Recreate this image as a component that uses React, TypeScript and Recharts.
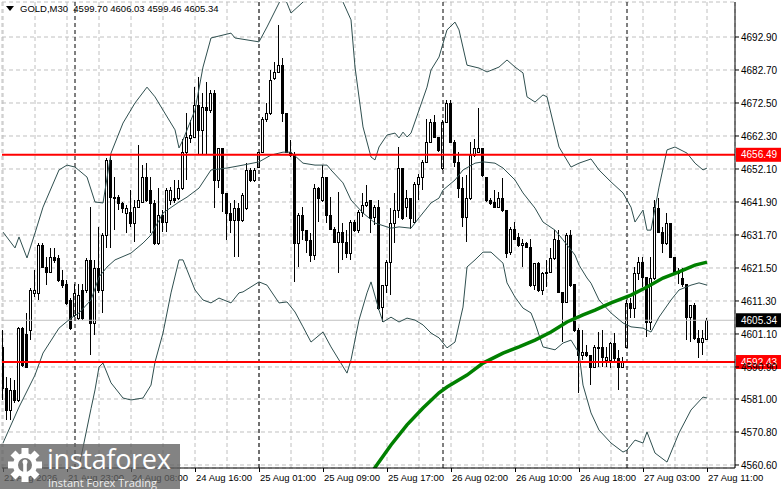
import React from 'react';
import { ComposedChart, Bar, Line, XAxis, YAxis, CartesianGrid, ReferenceLine } from 'recharts';

// open, high, low, close per M30 bar
const candles: [number, number, number, number][] = [
  [4597.2, 4602.3, 4580.7, 4584.3], [4584.3, 4587.9, 4574.5, 4577.6], [4577.6, 4587.4, 4574.5, 4583.8], [4583.8, 4586.9, 4579.7, 4580.7],
  [4580.7, 4603.4, 4580.2, 4602.8], [4602.8, 4603.4, 4591.0, 4591.5], [4601.0, 4607.5, 4590.5, 4591.0], [4602.3, 4615.2, 4599.2, 4614.7],
  [4613.7, 4620.9, 4612.6, 4614.7], [4613.7, 4629.1, 4611.6, 4628.6], [4628.6, 4629.1, 4621.4, 4621.9], [4621.9, 4625.0, 4616.2, 4620.3],
  [4620.3, 4627.6, 4619.8, 4625.0], [4625.0, 4627.6, 4622.9, 4624.0], [4624.5, 4625.5, 4617.3, 4617.8], [4617.8, 4620.9, 4615.2, 4616.2],
  [4616.7, 4617.8, 4610.1, 4610.6], [4611.6, 4612.1, 4602.3, 4602.8], [4607.0, 4616.7, 4606.5, 4613.7], [4606.0, 4616.7, 4605.4, 4613.1],
  [4614.7, 4616.7, 4605.4, 4606.0], [4614.7, 4624.5, 4613.7, 4624.0], [4624.0, 4640.4, 4594.6, 4604.4], [4604.4, 4624.0, 4600.8, 4621.4],
  [4621.4, 4634.3, 4613.7, 4614.7], [4614.7, 4632.2, 4607.5, 4631.7], [4631.7, 4655.4, 4627.6, 4654.9], [4654.9, 4656.4, 4627.6, 4643.5],
  [4643.5, 4649.7, 4633.2, 4643.0], [4643.5, 4644.0, 4639.4, 4641.5], [4641.5, 4642.0, 4638.4, 4639.9], [4638.4, 4640.9, 4632.2, 4639.9],
  [4638.9, 4645.6, 4634.3, 4635.3], [4635.3, 4642.5, 4629.6, 4640.4], [4640.4, 4659.5, 4639.9, 4642.5], [4642.0, 4653.3, 4641.5, 4649.7],
  [4649.7, 4653.8, 4642.0, 4642.5], [4645.6, 4649.7, 4632.2, 4641.5], [4641.5, 4642.5, 4628.6, 4629.1], [4629.1, 4646.1, 4628.6, 4637.9],
  [4637.9, 4639.4, 4632.7, 4635.8], [4635.8, 4646.1, 4632.7, 4645.6], [4642.5, 4646.6, 4641.0, 4645.6], [4643.0, 4648.7, 4641.5, 4642.5],
  [4643.0, 4648.7, 4642.5, 4646.1], [4646.1, 4661.5, 4645.6, 4657.4], [4657.4, 4669.3, 4648.7, 4662.1], [4661.6, 4667.2, 4660.0, 4662.6],
  [4662.1, 4677.5, 4661.6, 4671.9], [4671.9, 4680.6, 4656.4, 4664.1], [4664.1, 4675.5, 4656.4, 4671.4], [4671.4, 4679.1, 4656.4, 4670.3],
  [4670.3, 4676.5, 4669.3, 4675.5], [4675.5, 4676.5, 4639.9, 4648.7], [4648.7, 4658.5, 4646.1, 4658.5], [4658.5, 4658.5, 4638.9, 4644.6],
  [4644.6, 4644.6, 4630.1, 4638.4], [4638.4, 4641.5, 4632.2, 4636.3], [4636.3, 4642.5, 4625.0, 4639.9], [4639.9, 4641.5, 4625.0, 4636.3],
  [4636.3, 4644.6, 4635.8, 4644.0], [4639.9, 4653.8, 4639.4, 4651.8], [4651.8, 4652.3, 4648.2, 4648.7], [4648.7, 4652.3, 4648.2, 4651.8],
  [4652.8, 4657.4, 4652.3, 4657.4], [4657.4, 4668.2, 4656.9, 4667.7], [4667.7, 4672.4, 4666.7, 4669.3], [4669.3, 4682.7, 4668.8, 4679.6],
  [4680.1, 4685.2, 4679.6, 4682.2], [4682.2, 4696.6, 4681.7, 4684.2], [4684.2, 4686.3, 4666.7, 4669.3], [4669.3, 4669.3, 4656.9, 4657.4],
  [4657.4, 4661.0, 4655.9, 4656.4], [4656.4, 4657.4, 4617.3, 4629.1], [4629.1, 4638.4, 4621.9, 4637.9], [4637.9, 4640.4, 4630.1, 4633.2],
  [4633.2, 4633.2, 4626.0, 4630.1], [4630.1, 4632.2, 4623.4, 4625.5], [4625.5, 4647.6, 4624.0, 4646.1], [4646.1, 4646.6, 4635.8, 4643.0],
  [4642.5, 4653.3, 4642.0, 4649.7], [4649.7, 4649.7, 4635.3, 4637.9], [4637.9, 4643.5, 4633.2, 4633.7], [4633.7, 4634.3, 4629.1, 4629.6],
  [4629.6, 4645.1, 4619.8, 4632.7], [4632.7, 4635.3, 4624.0, 4629.6], [4629.6, 4633.2, 4624.5, 4626.0], [4626.0, 4636.3, 4624.0, 4635.8],
  [4635.8, 4636.3, 4632.7, 4633.2], [4633.2, 4639.4, 4632.2, 4638.9], [4638.9, 4644.6, 4637.4, 4640.9], [4640.9, 4647.1, 4640.4, 4642.0],
  [4642.5, 4642.5, 4632.2, 4636.8], [4637.4, 4641.0, 4634.8, 4640.4], [4640.4, 4642.5, 4608.5, 4609.0], [4609.5, 4616.2, 4604.9, 4616.2],
  [4616.2, 4623.9, 4613.7, 4623.4], [4623.4, 4639.9, 4613.2, 4635.3], [4635.3, 4644.6, 4629.1, 4639.4], [4639.4, 4659.0, 4636.8, 4652.3],
  [4652.3, 4652.3, 4636.3, 4636.8], [4640.4, 4645.6, 4637.4, 4643.0], [4643.0, 4643.0, 4633.7, 4636.8], [4635.8, 4648.2, 4635.3, 4647.6],
  [4647.6, 4650.7, 4642.5, 4649.7], [4649.7, 4654.9, 4645.6, 4654.3], [4654.3, 4667.7, 4653.8, 4660.5], [4660.5, 4667.7, 4660.0, 4666.7],
  [4666.7, 4668.8, 4661.6, 4662.1], [4662.1, 4662.1, 4657.4, 4658.0], [4652.3, 4667.2, 4651.8, 4666.7], [4666.7, 4673.4, 4666.2, 4672.4],
  [4672.4, 4673.4, 4660.0, 4660.5], [4660.5, 4661.0, 4652.8, 4654.3], [4654.3, 4657.4, 4643.0, 4646.1], [4646.1, 4649.7, 4634.3, 4637.4],
  [4637.4, 4650.2, 4629.6, 4643.0], [4643.0, 4660.5, 4642.5, 4656.4], [4656.4, 4661.5, 4655.9, 4658.5], [4657.4, 4670.8, 4656.9, 4658.5],
  [4658.5, 4658.5, 4649.7, 4650.2], [4649.7, 4649.7, 4642.0, 4642.5], [4642.5, 4643.0, 4641.0, 4641.5], [4642.0, 4645.6, 4639.9, 4640.4],
  [4640.4, 4645.1, 4639.9, 4643.0], [4643.0, 4649.2, 4638.9, 4639.4], [4639.4, 4639.4, 4624.5, 4626.0], [4626.5, 4634.3, 4625.5, 4633.7],
  [4633.7, 4635.8, 4630.1, 4630.6], [4631.2, 4632.2, 4628.1, 4628.6], [4628.6, 4630.6, 4621.9, 4629.1], [4629.1, 4629.6, 4627.6, 4628.1],
  [4628.1, 4630.6, 4615.7, 4616.2], [4616.2, 4622.9, 4614.7, 4622.9], [4622.9, 4623.4, 4614.2, 4614.7], [4614.7, 4620.3, 4613.2, 4619.8],
  [4619.8, 4623.9, 4615.7, 4620.3], [4620.3, 4627.6, 4619.8, 4624.5], [4624.5, 4633.2, 4624.0, 4630.6], [4630.1, 4633.2, 4613.7, 4614.2],
  [4614.2, 4614.2, 4598.7, 4611.1], [4611.1, 4632.2, 4610.6, 4631.7], [4631.7, 4633.2, 4615.7, 4616.2], [4616.7, 4616.7, 4601.8, 4602.3],
  [4602.3, 4602.8, 4582.8, 4594.6], [4594.6, 4602.3, 4593.1, 4595.6], [4595.6, 4597.7, 4594.1, 4594.6], [4594.6, 4594.6, 4585.3, 4591.0],
  [4591.0, 4597.7, 4590.5, 4597.2], [4596.7, 4601.8, 4591.0, 4597.2], [4597.2, 4602.3, 4591.0, 4594.1], [4593.1, 4597.2, 4591.0, 4594.1],
  [4593.1, 4598.7, 4590.5, 4598.2], [4598.2, 4601.3, 4592.5, 4593.6], [4593.6, 4596.2, 4583.8, 4591.0], [4591.0, 4594.1, 4590.5, 4592.5],
  [4597.2, 4611.6, 4597.2, 4610.6], [4610.6, 4612.1, 4606.0, 4609.0], [4609.0, 4621.9, 4606.0, 4619.8], [4619.8, 4625.0, 4617.8, 4623.4],
  [4623.4, 4625.0, 4615.7, 4618.8], [4618.8, 4618.8, 4600.3, 4604.9], [4604.9, 4625.0, 4602.3, 4618.3], [4618.3, 4642.5, 4617.8, 4640.4],
  [4639.9, 4643.0, 4632.2, 4632.7], [4632.7, 4634.3, 4626.0, 4629.1], [4629.1, 4638.4, 4628.6, 4635.3], [4635.3, 4635.3, 4624.5, 4625.0],
  [4625.0, 4625.0, 4619.8, 4620.3], [4620.3, 4621.4, 4616.7, 4619.8], [4618.3, 4621.4, 4615.7, 4616.7], [4616.7, 4616.7, 4599.2, 4606.5],
  [4606.5, 4610.1, 4598.7, 4610.1], [4610.1, 4610.6, 4599.2, 4599.8], [4599.8, 4602.3, 4593.6, 4598.7], [4598.7, 4602.3, 4594.6, 4599.8],
  [4599.70, 4606.03, 4599.46, 4605.34],
];

// Bollinger bands: [bar index, price]
const upperBand: [number, number][] = [
  [0, 4632.6], [3, 4627.7], [4, 4631.1], [6, 4624.6], [8, 4632.3], [10, 4640.3], [14, 4651.8], [16, 4653.3], [18, 4652.7],
  [21, 4649.6], [23, 4641.9], [25, 4641.6], [27, 4657.0], [30, 4666.3], [33, 4672.5], [36, 4677.4], [38, 4674.4], [40, 4670.3],
  [43, 4664.2], [44, 4658.6], [45, 4661.1], [48, 4670.3], [50, 4683.6], [52, 4692.6], [57, 4694.1], [58, 4692.6], [64, 4691.4],
  [66, 4696.0], [69, 4703.4], [70, 4706.0], [71, 4703.4], [72, 4700.3], [75, 4703.7], [80, 4712.0], [85, 4703.7], [87, 4698.2],
  [88, 4683.6], [90, 4665.1], [92, 4655.8], [93, 4654.9], [94, 4658.9], [96, 4662.6], [98, 4663.2], [99, 4661.7], [100, 4663.5],
  [101, 4662.0], [102, 4663.2], [104, 4670.3], [106, 4677.4], [107, 4682.7], [109, 4686.7], [111, 4695.1], [113, 4697.5],
  [114, 4695.1], [116, 4684.2], [119, 4683.3], [121, 4682.1], [124, 4683.6], [126, 4685.8], [128, 4683.6], [130, 4681.8],
  [131, 4674.4], [133, 4672.8], [135, 4675.0], [136, 4674.4], [139, 4658.9], [142, 4652.7], [144, 4653.9], [147, 4655.2],
  [149, 4651.8], [152, 4648.1], [155, 4644.7], [157, 4640.3], [158, 4635.7], [160, 4639.4], [161, 4633.2], [162, 4633.2],
  [164, 4646.5], [166, 4658.0], [168, 4658.9], [171, 4657.0], [173, 4653.9], [175, 4651.8], [176, 4652.4],
];

const middleBand: [number, number][] = [
  [0, 4567.4], [4, 4578.5], [8, 4588.4], [10, 4595.2], [14, 4602.9], [17, 4606.0], [19, 4607.6], [22, 4611.6], [24, 4618.7],
  [26, 4621.8], [28, 4624.0], [32, 4626.1], [35, 4629.2], [37, 4631.7], [40, 4638.5], [44, 4641.9], [46, 4643.4], [49, 4646.2],
  [52, 4651.8], [56, 4652.4], [60, 4653.3], [64, 4654.3], [67, 4656.4], [70, 4657.3], [72, 4657.3], [75, 4653.9], [78, 4653.3],
  [81, 4653.3], [82, 4651.8], [85, 4647.8], [87, 4642.5], [90, 4638.5], [93, 4635.4], [97, 4633.8], [99, 4634.2], [102, 4633.8],
  [104, 4637.0], [107, 4641.6], [109, 4643.1], [110, 4645.6], [113, 4648.7], [115, 4651.8], [118, 4653.9], [120, 4654.3],
  [123, 4653.9], [125, 4652.4], [128, 4648.7], [130, 4644.7], [133, 4640.0], [135, 4635.7], [138, 4633.2], [140, 4630.2],
  [143, 4625.5], [144, 4622.4], [146, 4618.4], [147, 4616.8], [149, 4611.6], [152, 4607.6], [155, 4604.5], [157, 4603.3],
  [160, 4602.9], [162, 4601.7], [164, 4606.3], [167, 4611.6], [169, 4614.7], [172, 4616.2], [174, 4616.9], [176, 4616.2],
];

const lowerBand: [number, number][] = [
  [0, 4502.0], [10, 4550.0], [16, 4557.0], [19, 4560.0], [22, 4578.0], [23, 4583.8], [24, 4590.9], [25, 4592.1], [27, 4586.0],
  [30, 4581.3], [32, 4580.7], [35, 4581.3], [37, 4585.3], [38, 4592.4], [40, 4601.4], [42, 4613.8], [44, 4624.0], [45, 4624.0],
  [46, 4620.9], [48, 4614.7], [50, 4611.6], [52, 4610.7], [54, 4612.2], [57, 4610.7], [59, 4613.8], [60, 4614.1], [64, 4617.2],
  [66, 4616.2], [69, 4610.7], [71, 4611.0], [73, 4607.9], [75, 4603.3], [77, 4598.6], [80, 4601.7], [82, 4597.1], [86, 4589.0],
  [87, 4593.1], [89, 4605.4], [91, 4613.8], [92, 4617.2], [94, 4608.5], [95, 4604.8], [97, 4606.3], [99, 4604.8], [101, 4606.0],
  [103, 4605.4], [105, 4603.9], [107, 4601.4], [109, 4599.9], [111, 4596.8], [113, 4598.6], [115, 4609.4], [116, 4621.8],
  [118, 4624.0], [120, 4626.4], [122, 4626.4], [125, 4623.0], [126, 4616.9], [128, 4612.5], [130, 4609.1], [132, 4607.6],
  [133, 4604.5], [135, 4597.1], [138, 4596.2], [140, 4598.3], [142, 4599.2], [144, 4595.2], [145, 4585.3], [147, 4576.7],
  [149, 4571.4], [152, 4567.4], [155, 4564.6], [156, 4565.2], [158, 4568.3], [160, 4567.4], [161, 4570.8], [163, 4564.3],
  [166, 4561.5], [169, 4570.5], [172, 4577.6], [175, 4581.6], [176, 4581.3],
];

// slow moving average
const maLine: [number, number][] = [
  [91, 4556.5], [93, 4559.8], [97, 4566.8], [101, 4573.0], [105, 4578.2], [109, 4582.9], [111, 4584.7], [116, 4588.4],
  [120, 4592.1], [125, 4595.2], [129, 4597.1], [133, 4599.2], [137, 4601.7], [141, 4604.8], [145, 4607.0], [148, 4608.5],
  [152, 4610.7], [157, 4613.1], [161, 4615.6], [165, 4618.4], [169, 4620.3], [173, 4622.4], [176, 4623.3],
];

const priceTicks = [4560.6, 4570.8, 4581.0, 4590.9, 4601.1, 4611.3, 4621.5, 4631.7, 4641.9, 4652.1, 4662.3, 4672.5, 4682.7, 4692.9];
const gridBars = [0, 8, 16, 24, 32, 40, 48, 56, 64, 72, 80, 88, 96, 104, 112, 120, 128, 136, 144, 152, 160, 168, 176];
const labelBars = [0, 16, 32, 48, 64, 80, 96, 112, 128, 144, 160, 176];
const timeLabels = [
  '21 Aug 2026', '21 Aug 23:00', '24 Aug 08:00', '24 Aug 16:00', '25 Aug 01:00', '25 Aug 09:00',
  '25 Aug 17:00', '26 Aug 02:00', '26 Aug 10:00', '26 Aug 18:00', '27 Aug 03:00', '27 Aug 11:00',
];
const daySeparators = [18, 64, 110, 156];
const levels = [4656.49, 4592.43];
const lastPrice = 4605.34;

const FONT = "'Liberation Sans', Arial, sans-serif";
const DOMAIN_X: [number, number] = [-0.25, 183];
const DOMAIN_Y: [number, number] = [4559.67, 4703.72];

const data = candles.map(([o, h, l, c], i) => ({ i, range: [l, h], o, h, l, c }));
const toPts = (arr: [number, number][]) => arr.map(([i, v]) => ({ i, v }));

// eslint-disable-next-line @typescript-eslint/no-explicit-any
const Candle = (props: any) => {
    const { x, y, width, height, payload } = props;
    if (!payload) return null;
    const { o, h, l, c } = payload;
    const top = Math.min(y, y + height);
    const span = Math.abs(height);
    const k = h - l > 0 ? span / (h - l) : 0;
    const cx = Math.floor(x + width / 2) + 0.5;
    const bTop = Math.round(top + (h - Math.max(o, c)) * k) + 0.5;
    const bBot = Math.round(top + (h - Math.min(o, c)) * k) + 0.5;
    return (
        <g shapeRendering="crispEdges">
            <line x1={cx} x2={cx} y1={top} y2={top + span} stroke="#000" strokeWidth={1} />
            <rect x={cx - 1} y={bTop} width={2} height={Math.max(bBot - bTop, 0)}
                fill={c >= o ? '#fff' : '#000'} stroke="#000" strokeWidth={1} />
        </g>
    );
};

// eslint-disable-next-line @typescript-eslint/no-explicit-any
const TimeTick = ({ x, y, payload }: any) => {
    const k = labelBars.indexOf(payload.value);
    if (k < 0) return <g />;
    return (
        <g>
            <line x1={x + 0.5} x2={x + 0.5} y1={y - 4} y2={y} stroke="#000" />
            <text x={x + 1} y={y + 9} fontSize={9.5} fontFamily={FONT} fill="#000">{timeLabels[k]}</text>
        </g>
    );
};

// eslint-disable-next-line @typescript-eslint/no-explicit-any
const priceTag = (bg: string, value: number) => (props: any) => {
    const vb = props.viewBox;
    if (!vb) return null;
    const right = vb.x + vb.width;
    return (
        <g>
            <rect x={right + 1} y={vb.y - 7} width={45} height={14} fill={bg} />
            <text x={right + 6} y={vb.y} dy="0.355em" fontSize={10} fontFamily={FONT} fill="#fff">{value.toFixed(2)}</text>
        </g>
    );
};

const Gear = () => (
    <svg width={38} height={36} viewBox="0 0 38 36" style={{ position: 'absolute', left: 6, top: 447 }}>
        <g transform="translate(19,18)" fill="#fff">
            {[0, 45, 90, 135, 180, 225, 270, 315].map((a) => (
                <rect key={a} x={-3.5} y={-17} width={7} height={8} transform={`rotate(${a})`} />
            ))}
            <circle r={12} />
            <circle r={7} fill="#7a7a7a" />
            <circle cy={-3} r={2.5} />
            <rect x={-1.8} y={-1} width={3.6} height={9} />
        </g>
    </svg>
);

export default function App() {
    return (
        <div style={{ position: 'absolute', left: 0, top: 0, width: 781, height: 489, background: '#fff', overflow: 'hidden' }}>
            <ComposedChart width={781} height={489} data={data} margin={{ top: 2, right: 0, bottom: 0, left: 2 }}>
                <CartesianGrid xAxisId="main" yAxisId="p" stroke="#c0c0c0" strokeDasharray="4 3" />
                <XAxis xAxisId="main" dataKey="i" type="number" domain={DOMAIN_X} allowDataOverflow
                    ticks={gridBars} interval={0} height={21} tickSize={4} tickMargin={0}
                    tickLine={false} axisLine={{ stroke: '#000' }} tick={<TimeTick />} />
                <XAxis xAxisId="top" dataKey="i" type="number" domain={DOMAIN_X} allowDataOverflow
                    orientation="top" height={0} tick={false} tickLine={false} axisLine={{ stroke: '#000' }} />
                <YAxis yAxisId="border" orientation="left" width={0} domain={DOMAIN_Y} allowDataOverflow
                    tick={false} tickLine={false} axisLine={{ stroke: '#000' }} />
                <YAxis yAxisId="p" orientation="right" width={46} domain={DOMAIN_Y} allowDataOverflow
                    ticks={priceTicks} interval={0} tickSize={4} tickMargin={2}
                    tickFormatter={(v: number) => v.toFixed(2)}
                    tick={{ fontSize: 10, fontFamily: FONT, fill: '#000' }}
                    tickLine={{ stroke: '#000' }} axisLine={{ stroke: '#000' }} />

                <ReferenceLine xAxisId="main" yAxisId="p" y={lastPrice} stroke="#c0c0c0"
                    label={priceTag('#000', lastPrice)} />
                {daySeparators.map((d) => (
                    <ReferenceLine key={d} xAxisId="main" yAxisId="p" x={d} stroke="#000" strokeDasharray="4 3" />
                ))}

                <Bar xAxisId="main" yAxisId="p" dataKey="range" barSize={4} isAnimationActive={false}
                    shape={(p: any) => <Candle {...p} />} />

                {[upperBand, middleBand, lowerBand].map((b, k) => (
                    <Line key={k} xAxisId="main" yAxisId="p" data={toPts(b)} dataKey="v" type="linear"
                        stroke="#2f4f4f" strokeWidth={1} dot={false} activeDot={false} isAnimationActive={false} />
                ))}
                <Line xAxisId="main" yAxisId="p" data={toPts(maLine)} dataKey="v" type="linear"
                    stroke="#008000" strokeWidth={3.5} dot={false} activeDot={false} isAnimationActive={false} />

                {levels.map((lv) => (
                    <ReferenceLine key={lv} xAxisId="main" yAxisId="p" y={lv} stroke="#ff0000" strokeWidth={2}
                        label={priceTag('#ff0000', lv)} />
                ))}
            </ComposedChart>

            <div style={{ position: 'absolute', left: 6, top: 3, fontFamily: FONT, fontSize: 9.5, color: '#000', whiteSpace: 'pre', display: 'flex', alignItems: 'center' }}>
                <svg width={9} height={6} style={{ marginRight: 5 }}><polygon points="0,0 8,0 4,5" fill="#000" /></svg>
                <span>GOLD,M30  4599.70 4606.03 4599.46 4605.34</span>
            </div>

            <div style={{ position: 'absolute', left: 0, top: 444, width: 180, height: 45, background: 'rgba(96,96,96,0.78)' }} />
            <Gear />
            <div style={{ position: 'absolute', left: 47, top: 442, fontFamily: "'Open Sans', sans-serif", fontSize: 27, color: '#fff', lineHeight: '34px', letterSpacing: -0.3 }}>
                instaforex
            </div>
            <div style={{ position: 'absolute', left: 48, top: 476, fontFamily: "'Open Sans', sans-serif", fontSize: 11, color: '#eee', lineHeight: '13px' }}>
                Instant Forex Trading
            </div>
        </div>
    );
}
